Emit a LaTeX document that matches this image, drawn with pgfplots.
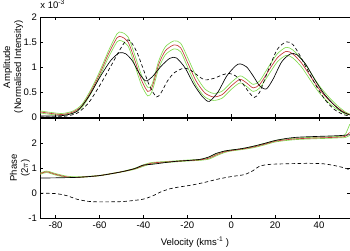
\documentclass[border=0pt]{standalone}
\usepackage{pgfplots}
\pgfplotsset{compat=1.18}
\usepackage{pgfplotstable}
\usepackage{fontspec}
\setmainfont{Liberation Sans}
\definecolor{mred}{RGB}{195,55,55}
\definecolor{mgreen}{RGB}{130,220,80}

\pgfplotstableread{
v a
-87 0.02
-80 0.02
-75 0.04
-70 0.12
-65 0.40
-60 0.78
-55 1.12
-51 1.28
-48 1.26
-45 1.12
-42 0.88
-39 0.72
-36 0.80
-32 1.01
-28 1.17
-25 1.18
-21 0.98
-17 0.65
-13 0.40
-10 0.31
-6 0.50
-2 0.82
2 1.02
4 1.06
7 1.00
10 0.82
13 0.62
16 0.56
19 0.75
23 1.10
27 1.26
30 1.24
34 1.05
38 0.75
42 0.48
46 0.28
50 0.12
54 0.04
}\ampblack

\pgfplotstableread{
v a
-87 0.00
-80 0.00
-75 0.02
-70 0.08
-65 0.28
-60 0.62
-55 1.00
-51 1.32
-48 1.52
-46 1.52
-43 1.30
-40 0.95
-37 0.60
-34 0.40
-32 0.48
-29 0.72
-26 0.88
-22 0.97
-19 0.95
-15 0.82
-12 0.74
-8 0.77
-4 0.84
-1 0.87
2 0.82
5 0.68
8 0.50
10.5 0.39
13 0.50
17 0.95
21 1.35
25 1.50
28 1.45
31 1.25
35 0.92
39 0.60
43 0.33
47 0.15
51 0.05
54 0.02
}\ampdash

\pgfplotstableread{
v r up lo
-87 0.10 0.12 0.08
-82 0.07 0.09 0.05
-77 0.05 0.07 0.04
-72 0.10 0.12 0.08
-68 0.22 0.25 0.19
-64 0.50 0.54 0.46
-60 0.85 0.90 0.80
-56 1.25 1.31 1.18
-52 1.58 1.66 1.50
-50 1.60 1.69 1.52
-47 1.50 1.60 1.42
-44 1.15 1.25 1.05
-41 0.75 0.85 0.65
-38 0.51 0.59 0.42
-36 0.60 0.66 0.52
-33 1.05 1.12 0.97
-30 1.32 1.40 1.24
-26 1.44 1.52 1.36
-23 1.38 1.47 1.30
-20 1.10 1.20 1.01
-16 0.72 0.82 0.63
-12 0.48 0.56 0.40
-8 0.40 0.47 0.33
-4 0.45 0.52 0.38
0 0.62 0.69 0.55
4 0.75 0.82 0.68
7 0.68 0.75 0.61
10 0.58 0.65 0.51
13 0.65 0.72 0.58
17 0.92 1.00 0.84
21 1.18 1.26 1.10
25 1.31 1.39 1.23
28 1.26 1.34 1.18
32 1.08 1.16 1.00
36 0.82 0.90 0.74
40 0.56 0.63 0.49
44 0.36 0.42 0.30
48 0.20 0.24 0.16
52 0.08 0.10 0.06
54 0.05 0.06 0.04
}\ampred

\pgfplotstableread{
v p
-87 0.60
-80 0.61
-70 0.63
-60 0.70
-50 0.85
-44 0.98
-40 1.12
-36 1.15
-30 1.22
-25 1.27
-20 1.30
-14 1.35
-10 1.45
-7 1.58
-3 1.68
0 1.72
5 1.78
10 1.87
15 1.98
20 2.10
25 2.18
30 2.23
38 2.26
45 2.28
50 2.30
54 2.33
}\phblack

\pgfplotstableread{
v p
-87 0.00
-80 -0.02
-75 -0.10
-70 -0.25
-65 -0.33
-60 -0.35
-50 -0.34
-44 -0.29
-40 -0.24
-36 -0.12
-32 0.05
-28 0.17
-24 0.24
-18 0.32
-12 0.43
-6 0.56
0 0.66
6 0.74
10 0.90
13 1.08
18 1.15
25 1.17
35 1.19
42 1.17
47 1.10
51 1.02
54 0.93
}\phdash

\pgfplotstableread{
v r up lo
-87 0.78 0.80 0.75
-84 0.85 0.88 0.82
-80 0.75 0.78 0.72
-75 0.65 0.68 0.63
-70 0.63 0.65 0.62
-60 0.70 0.71 0.69
-50 0.85 0.86 0.84
-44 0.97 0.99 0.95
-40 1.10 1.13 1.07
-37 1.18 1.21 1.15
-34 1.22 1.24 1.20
-30 1.24 1.26 1.22
-25 1.27 1.29 1.25
-20 1.30 1.32 1.28
-14 1.33 1.35 1.31
-10 1.40 1.44 1.36
-7 1.52 1.56 1.48
-3 1.65 1.68 1.62
0 1.70 1.72 1.68
5 1.76 1.78 1.74
10 1.84 1.87 1.81
15 1.95 1.98 1.92
20 2.07 2.10 2.04
25 2.13 2.16 2.10
30 2.17 2.20 2.14
38 2.20 2.23 2.17
45 2.22 2.25 2.19
50 2.24 2.27 2.21
52 2.27 2.35 2.22
54 2.42 2.75 2.30
}\phred

\begin{document}
\fontsize{9.5}{11}\selectfont
\begin{tikzpicture}
\pgfplotsset{
  every axis/.append style={
    scale only axis, width=309pt, height=100pt,
    xmin=-87, xmax=54,
    xtick={-80,-60,...,40},
    tick align=inside, major tick length=3pt,
    tick style={black, line width=0.4pt},
    axis line style={line width=0.5pt},
    font=\fontsize{9.5}{11}\selectfont,
    /pgf/number format/assume math mode=true,
    every axis plot/.append style={line width=0.65pt, smooth, tension=0.45, mark=none},
    ylabel style={align=center},
  },
}
\begin{axis}[name=top,
  ymin=0, ymax=2, ytick={0,0.5,1,1.5,2},
  yticklabels={0,0.5,1,1.5,2},
  xticklabels={},
  ylabel={Amplitude\\(Normalised Intensity)},
  ylabel style={yshift=-6pt},
  title={x 10\textsuperscript{-3}},
  title style={at={(rel axis cs:0,1)}, anchor=south west, inner sep=0pt, yshift=2pt, xshift=0pt, font=\fontsize{9.5}{11}\selectfont},
]
\addplot[mgreen] table[x=v,y=up]{\ampred};
\addplot[mgreen] table[x=v,y=lo]{\ampred};
\addplot[mred] table[x=v,y=r]{\ampred};
\addplot[black, dash pattern=on 3.5pt off 2.5pt] table[x=v,y=a]{\ampdash};
\addplot[black] table[x=v,y=a]{\ampblack};
\end{axis}
\begin{axis}[at={(top.south west)}, anchor=north west, yshift=-1pt,
  ymin=-1, ymax=3, ytick={-1,0,1,2},
  ylabel={Phase\\(2$\pi$)},
  xlabel={Velocity (kms\textsuperscript{-1} )},
  xlabel style={yshift=-2pt},
  ylabel style={yshift=-8pt},
  xticklabels={-80,-60,-40,-20,0,20,40},
]
\addplot[mgreen] table[x=v,y=up]{\phred};
\addplot[mgreen] table[x=v,y=lo]{\phred};
\addplot[mred] table[x=v,y=r]{\phred};
\addplot[black, dash pattern=on 3.5pt off 2.5pt] table[x=v,y=p]{\phdash};
\addplot[black] table[x=v,y=p]{\phblack};
\end{axis}
\end{tikzpicture}
\end{document}
